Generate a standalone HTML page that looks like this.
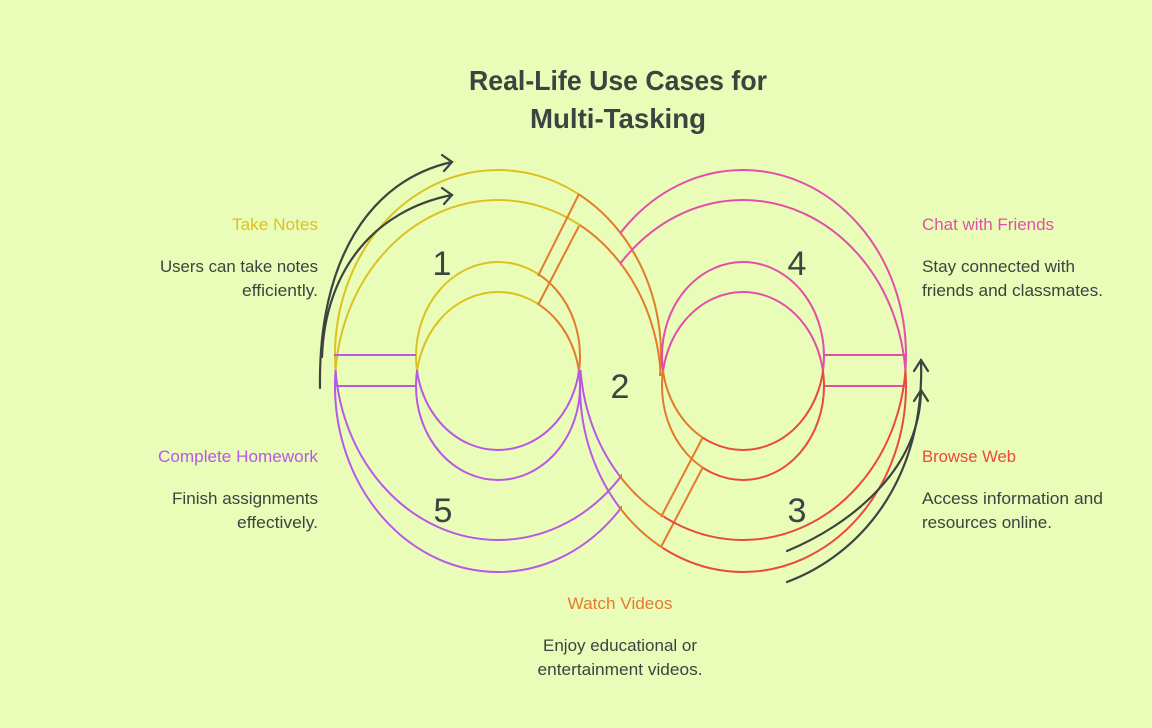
<!DOCTYPE html>
<html><head><meta charset="utf-8"><style>
html,body{margin:0;padding:0;background:#e9fdb8;}
svg{display:block;font-family:"Liberation Sans",sans-serif;}
</style></head><body>
<svg width="1152" height="728" viewBox="0 0 1152 728" xmlns="http://www.w3.org/2000/svg">
<rect width="1152" height="728" fill="#e9fdb8"/>
<defs>
<clipPath id="y1"><polygon points="300,100 626,100 488,376 300,376"/></clipPath>
<clipPath id="o1"><polygon points="626,100 720,100 720,376 488,376"/></clipPath>
<clipPath id="y2"><polygon points="300,100 642,100 504,376 300,376"/></clipPath>
<clipPath id="o2"><polygon points="642,100 720,100 720,376 504,376"/></clipPath>
<clipPath id="pL"><rect x="300" y="370" width="322" height="300"/></clipPath>
<clipPath id="pLin"><rect x="300" y="370" width="400" height="300"/></clipPath>
<clipPath id="pkO"><rect x="620" y="100" width="400" height="270"/></clipPath>
<clipPath id="pkI"><rect x="560" y="100" width="460" height="270"/></clipPath>
<clipPath id="or3"><polygon points="560,370 737,370 597,650 560,650"/></clipPath>
<clipPath id="rd3"><polygon points="737,370 1000,370 1000,650 597,650"/></clipPath>
<clipPath id="or4"><polygon points="560,370 752,370 612,650 560,650"/></clipPath>
<clipPath id="rd4"><polygon points="752,370 1000,370 1000,650 612,650"/></clipPath>
<clipPath id="or3o"><polygon points="620,370 737,370 597,650 620,650"/></clipPath>
<clipPath id="or4o"><polygon points="620,370 752,370 612,650 620,650"/></clipPath>
<clipPath id="pRo"><rect x="560" y="370" width="60" height="300"/></clipPath>
</defs>
<g fill="none" stroke-width="2">
<!-- Left lobe -->
<g stroke="#dcc21e">
<ellipse cx="498" cy="355" rx="163" ry="185" clip-path="url(#y1)"/>
<ellipse cx="498" cy="356" rx="82" ry="94" clip-path="url(#y1)"/>
<ellipse cx="498" cy="386" rx="163" ry="186" clip-path="url(#y2)"/>
<ellipse cx="498" cy="386" rx="82" ry="94" clip-path="url(#y2)"/>
</g>
<g stroke="#e27b2c">
<ellipse cx="498" cy="355" rx="163" ry="185" clip-path="url(#o1)"/>
<ellipse cx="498" cy="356" rx="82" ry="94" clip-path="url(#o1)"/>
<ellipse cx="498" cy="386" rx="163" ry="186" clip-path="url(#o2)"/>
<ellipse cx="498" cy="386" rx="82" ry="94" clip-path="url(#o2)"/>
<line x1="579" y1="194" x2="538" y2="276"/>
<line x1="579" y1="226" x2="538" y2="305"/>
<line x1="703" y1="437" x2="661" y2="517"/>
<line x1="703" y1="467" x2="661" y2="547"/>
</g>
<g stroke="#b858e6">
<ellipse cx="498" cy="355" rx="163" ry="185" clip-path="url(#pL)"/>
<ellipse cx="498" cy="386" rx="163" ry="186" clip-path="url(#pL)"/>
<ellipse cx="498" cy="356" rx="82" ry="94" clip-path="url(#pLin)"/>
<ellipse cx="498" cy="386" rx="82" ry="94" clip-path="url(#pLin)"/>
<ellipse cx="743" cy="355" rx="163" ry="185" clip-path="url(#pRo)"/>
<ellipse cx="743" cy="386" rx="163" ry="186" clip-path="url(#pRo)"/>
<line x1="334" y1="355" x2="416" y2="355"/>
<line x1="334" y1="386" x2="416" y2="386"/>
</g>
<!-- Right lobe -->
<g stroke="#e24fa8">
<ellipse cx="743" cy="355" rx="163" ry="185" clip-path="url(#pkO)"/>
<ellipse cx="743" cy="386" rx="163" ry="186" clip-path="url(#pkO)"/>
<ellipse cx="743" cy="356" rx="81" ry="94" clip-path="url(#pkI)"/>
<ellipse cx="743" cy="386" rx="81" ry="94" clip-path="url(#pkI)"/>
<line x1="824" y1="355" x2="906" y2="355"/>
<line x1="824" y1="386" x2="906" y2="386"/>
</g>
<g stroke="#e27b2c">
<ellipse cx="743" cy="356" rx="81" ry="94" clip-path="url(#or3)"/>
<ellipse cx="743" cy="386" rx="81" ry="94" clip-path="url(#or4)"/>
<ellipse cx="743" cy="355" rx="163" ry="185" clip-path="url(#or3o)"/>
<ellipse cx="743" cy="386" rx="163" ry="186" clip-path="url(#or4o)"/>
</g>
<g stroke="#e9493e">
<ellipse cx="743" cy="356" rx="81" ry="94" clip-path="url(#rd3)"/>
<ellipse cx="743" cy="386" rx="81" ry="94" clip-path="url(#rd4)"/>
<ellipse cx="743" cy="355" rx="163" ry="185" clip-path="url(#rd3)"/>
<ellipse cx="743" cy="386" rx="163" ry="186" clip-path="url(#rd4)"/>
</g>
<!-- arrows -->
<g stroke="#3d4340" stroke-width="2.2" stroke-linecap="round">
<path d="M320,388 C318,260 370,180 452,162"/>
<path d="M442,155 L452,162 L444,171"/>
<path d="M322,357 C325,270 375,210 452,195"/>
<path d="M442,188 L452,195 L444,204"/>
<path d="M787,582 C860,555 925,480 921,360"/>
<path d="M914,371 L921,360 L928,371"/>
<path d="M787,551 C850,525 920,470 921,390"/>
<path d="M914,401 L921,390 L928,401"/>
</g>
</g>
<g font-weight="bold" font-size="28" fill="#3d4340" text-anchor="middle">
<text x="618" y="90" textLength="298" lengthAdjust="spacingAndGlyphs">Real-Life Use Cases for</text>
<text x="618" y="128" textLength="176" lengthAdjust="spacingAndGlyphs">Multi-Tasking</text>
</g>
<g font-size="34" fill="#3d4340" text-anchor="middle">
<text x="442" y="275">1</text>
<text x="797" y="275">4</text>
<text x="620" y="398">2</text>
<text x="443" y="522">5</text>
<text x="797" y="522">3</text>
</g>
<g font-size="17" text-anchor="end">
<text x="318" y="230" fill="#dcc21e" textLength="86" lengthAdjust="spacingAndGlyphs">Take Notes</text>
<text x="318" y="272" fill="#3d4340" textLength="158" lengthAdjust="spacingAndGlyphs">Users can take notes</text>
<text x="318" y="296" fill="#3d4340" textLength="76" lengthAdjust="spacingAndGlyphs">efficiently.</text>
<text x="318" y="462" fill="#b858e6" textLength="160" lengthAdjust="spacingAndGlyphs">Complete Homework</text>
<text x="318" y="504" fill="#3d4340" textLength="146" lengthAdjust="spacingAndGlyphs">Finish assignments</text>
<text x="318" y="528" fill="#3d4340" textLength="81" lengthAdjust="spacingAndGlyphs">effectively.</text>
</g>
<g font-size="17" text-anchor="start">
<text x="922" y="230" fill="#e24fa8" textLength="132" lengthAdjust="spacingAndGlyphs">Chat with Friends</text>
<text x="922" y="272" fill="#3d4340" textLength="153" lengthAdjust="spacingAndGlyphs">Stay connected with</text>
<text x="922" y="296" fill="#3d4340" textLength="181" lengthAdjust="spacingAndGlyphs">friends and classmates.</text>
<text x="922" y="462" fill="#e9493e" textLength="94" lengthAdjust="spacingAndGlyphs">Browse Web</text>
<text x="922" y="504" fill="#3d4340" textLength="181" lengthAdjust="spacingAndGlyphs">Access information and</text>
<text x="922" y="528" fill="#3d4340" textLength="130" lengthAdjust="spacingAndGlyphs">resources online.</text>
</g>
<g font-size="17" text-anchor="middle">
<text x="620" y="609" fill="#e27b2c" textLength="105" lengthAdjust="spacingAndGlyphs">Watch Videos</text>
<text x="620" y="651" fill="#3d4340" textLength="154" lengthAdjust="spacingAndGlyphs">Enjoy educational or</text>
<text x="620" y="675" fill="#3d4340" textLength="165" lengthAdjust="spacingAndGlyphs">entertainment videos.</text>
</g>
</svg>
</body></html>
